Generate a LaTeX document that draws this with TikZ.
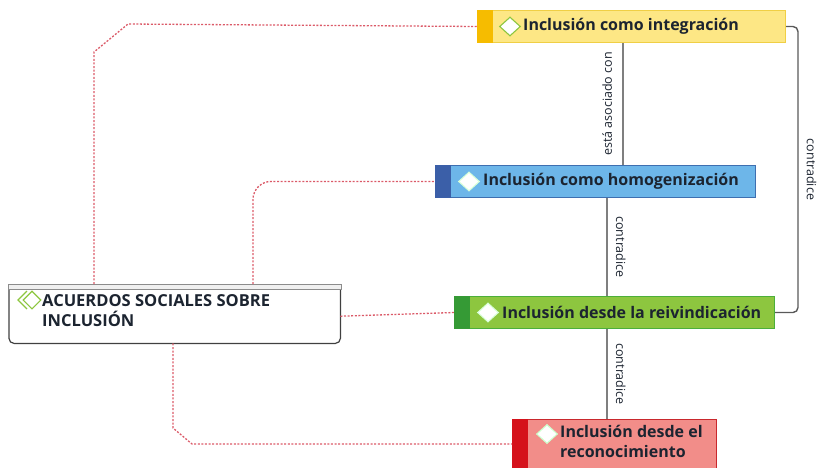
\documentclass[tikz,border=0pt]{standalone}
\usepackage{fontspec}
\setmainfont{Open Sans}
\usetikzlibrary{shapes.geometric}

\definecolor{ink}{HTML}{1C2430}
\definecolor{yelfill}{HTML}{FDE785}
\definecolor{yelstrip}{HTML}{F6BC00}
\definecolor{yelline}{HTML}{F0CF45}
\definecolor{blufill}{HTML}{6DB6E9}
\definecolor{blustrip}{HTML}{3B5FA8}
\definecolor{bluline}{HTML}{3E6FB0}
\definecolor{grnfill}{HTML}{8DC63F}
\definecolor{grnstrip}{HTML}{359A35}
\definecolor{grnline}{HTML}{4CAF3A}
\definecolor{redfill}{HTML}{F28D89}
\definecolor{redstrip}{HTML}{D5121B}
\definecolor{redline}{HTML}{C9282D}
\definecolor{dotred}{HTML}{DB5A68}
\definecolor{relgray}{HTML}{7F7F7F}
\definecolor{gemgreen}{HTML}{8DC63F}

\begin{document}
\begin{tikzpicture}[x=1pt,y=-1pt,
  box/.style={draw, line width=1pt, inner sep=0pt, anchor=north west, minimum height=32},
  title/.style={font=\bfseries\fontsize{16}{20}\selectfont, text=ink, inner sep=0pt, anchor=west, align=left},
  gem/.style={diamond, draw=#1, fill=white, line width=1.1pt, inner sep=0pt, minimum width=21, minimum height=19},
  rel/.style={draw=relgray, line width=2pt},
  relthin/.style={draw=relgray!70!black, line width=1.4pt, rounded corners=5pt},
  lab/.style={font=\fontsize{12.5}{14}\selectfont, text=ink},
  assoc/.style={draw=dotred, line width=1.3pt, dash pattern=on 2pt off 1.6pt},
]
\useasboundingbox (0,0) rectangle (820,467);
\clip (0,0) rectangle (820,467);

% concept boxes
\node[box, fill=yelfill, draw=yelline, minimum width=308] (yel) at (477,10) {};
\fill[yelstrip] (yel.north west) rectangle ([xshift=16pt]yel.south west);
\node[gem=gemgreen] (yelg) at ([xshift=33pt]yel.west) {};
\node[title] (yelt) at ([xshift=46pt]yel.west) {Inclusión como integración};

\node[box, fill=blufill, draw=bluline, minimum width=320] (blu) at (435,165) {};
\fill[blustrip] (blu.north west) rectangle ([xshift=16pt]blu.south west);
\node[gem=white!85!green] (blug) at ([xshift=34pt]blu.west) {};
\node[title] (blut) at ([xshift=48pt]blu.west) {Inclusión como homogenización};

\node[box, fill=grnfill, draw=grnline, minimum width=320] (grn) at (454,296) {};
\fill[grnstrip] (grn.north west) rectangle ([xshift=16pt]grn.south west);
\node[gem=white!85!green] (grng) at ([xshift=34pt]grn.west) {};
\node[title] (grnt) at ([xshift=48pt]grn.west) {Inclusión desde la reivindicación};

\node[box, fill=redfill, draw=redline, minimum width=204, minimum height=60] (red) at (512,419) {};
\fill[redstrip] (red.north west) rectangle ([xshift=16pt,yshift=-60pt]red.north west);
\node[gem=white!80!green] (redg) at (547,434) {};
\node[title, anchor=north west] (redt) at (560,425) {Inclusión desde el\\reconocimiento};

% group node
\node[inner sep=0pt, anchor=north west, minimum width=331, minimum height=54] (acu) at (9,289) {};
\draw[draw=black!75, line width=1.2pt, rounded corners=5pt] (acu.north west) -- (acu.south west) -- (acu.south east) -- (acu.north east);
\node[draw=black!45, fill=black!6, line width=0.9pt, inner sep=0pt, anchor=north west, minimum width=333, minimum height=5] (acubar) at (8,284) {};
\draw[gemgreen, line width=1.2pt] (27,291) -- (18,300) -- (27,309);
\node[gem=gemgreen, minimum width=18, minimum height=18] (acug) at (32,300) {};
\node[title, anchor=north west, font=\bfseries\fontsize{16.5}{20.5}\selectfont] (acut) at (42,294) {ACUERDOS SOCIALES SOBRE\\INCLUSIÓN};

% semantic relations
\coordinate (ax1) at (623,0);
\coordinate (ax2) at (607,0);
\coordinate (ax3) at (798,0);
\draw[rel] (yel.south -| ax1) -- node[lab, rotate=90, anchor=south, inner sep=10pt] (l1) {está asociado con} (blu.north -| ax1);
\draw[rel] (blu.south -| ax2) -- node[lab, rotate=-90, anchor=south, inner sep=8pt] (l2) {contradice} (grn.north -| ax2);
\draw[rel] (grn.south -| ax2) -- node[lab, rotate=-90, anchor=south, inner sep=8pt] (l3) {contradice} (red.north -| ax2);
\draw[relthin] (yel.east) -- (yel.east -| ax3) -- node[lab, rotate=-90, anchor=south, inner sep=8pt] (l4) {contradice} (grn.east -| ax3) -- (grn.east);

% group membership links
\coordinate (k1) at (94,52);
\coordinate (k2) at (128,24);
\draw[assoc] (acubar.north -| k1) -- (k1) -- (k2) -- (yel.west);
\coordinate (k3) at (253,0);
\draw[assoc, rounded corners=18pt] (acubar.north -| k3) |- (blu.west);
\draw[assoc] (acu.east) -- (grn.west);
\coordinate (k4) at (173,428);
\coordinate (k5) at (192,444);
\draw[assoc] (acu.south -| k4) -- (k4) -- (k5) -- (k5 -| red.west);
\end{tikzpicture}
\end{document}
